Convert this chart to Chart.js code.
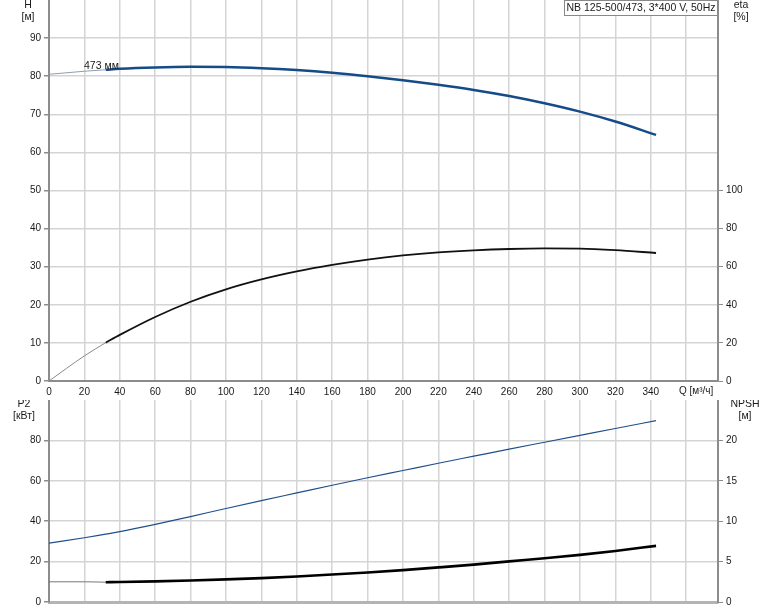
<!DOCTYPE html>
<html>
<head>
<meta charset="utf-8">
<script src="https://cdn.jsdelivr.net/npm/chart.js@4"></script>
<style>
   body { margin: 0; background: #fff; }
   canvas { position: absolute; left: 0; }
   #top { top: 0; }
   #bottom { top: 400px; }
</style>
</head>
<body>
<canvas id="top" width="774" height="400"></canvas>
<canvas id="bottom" width="774" height="211"></canvas>
<script>
// расход, м³/ч
const q = [0, 20, 32, 40, 60, 80, 100, 120, 140, 160, 180, 200, 220, 240, 260, 280, 300, 320, 343]
// напор H, м
const head = [80.5, 81.3, 81.7, 81.95, 82.3, 82.45, 82.4, 82.1, 81.6, 80.9, 80.0, 78.95, 77.75, 76.4, 74.8, 72.9, 70.7, 68.1, 64.6]
// КПД eta, %
const eta = [0, 13.2, 20.1, 24.2, 33.6, 41.6, 48.1, 53.3, 57.5, 60.9, 63.7, 65.9, 67.5, 68.6, 69.3, 69.6, 69.5, 68.7, 67.2]
// мощность P2, кВт
const power = [29.1, 31.8, 33.6, 34.8, 38.4, 42.3, 46.3, 50.2, 54.0, 57.8, 61.5, 65.1, 68.7, 72.2, 75.7, 79.1, 82.5, 85.9, 89.8]
// NPSH, м
const npsh = [2.5, 2.5, 2.45, 2.47, 2.55, 2.66, 2.8, 2.96, 3.16, 3.4, 3.66, 3.95, 4.28, 4.63, 5.03, 5.42, 5.83, 6.32, 6.95]

const qTicks = [0, 20, 40, 60, 80, 100, 120, 140, 160, 180, 200, 220, 240, 260, 280, 300, 320, 340, 360]
const headTicks = [0, 10, 20, 30, 40, 50, 60, 70, 80, 90]
const etaTicks = [0, 20, 40, 60, 80, 100]
const powerTicks = [0, 20, 40, 60, 80]
const npshTicks = [0, 5, 10, 15, 20]

const title = "NB 125-500/473, 3*400 V, 50Hz"
const curveLabel = "473 мм"
const qUnit = "Q [м³/ч]"

// конец тонкого участка в начале кривой
const split = 3

function pts(ys, from, to) {
   return q.slice(from, to).map((x, i) => ({ x: x, y: ys[from + i] }))
}

const FAMILY = "'Liberation Sans', Arial, sans-serif"
const TEXT = "#1a1a1a"
const AXIS = "#8c8c8c"
const GRID = "#d4d4d4"

function setTicks(list) {
   return scale => { scale.ticks = list.map(v => ({ value: v })) }
}

// фиксированный размер оси и без отступов под подписи
function fix(prop, size) {
   return scale => {
      scale[prop] = size
      scale.paddingTop = 0
      scale.paddingBottom = 0
      scale.paddingLeft = 0
      scale.paddingRight = 0
   }
}

function line(data, color, width, axis) {
   return {
      data: data,
      borderColor: color,
      borderWidth: width,
      pointRadius: 0,
      fill: false,
      cubicInterpolationMode: "monotone",
      yAxisID: axis
   }
}

function texts(items) {
   return {
      id: "texts",
      afterDraw(c) {
         const ctx = c.ctx
         ctx.save()
         items.forEach(t => {
            ctx.font = (t.size || 10.5) + "px " + FAMILY
            if (t.box) {
               ctx.fillStyle = "#fff"
               ctx.fillRect(t.box[0], t.box[1], t.box[2], t.box[3])
               ctx.strokeStyle = "#888"
               ctx.lineWidth = 1
               ctx.strokeRect(t.box[0] + 0.5, t.box[1] + 0.5, t.box[2] - 1, t.box[3] - 1)
            }
            ctx.fillStyle = TEXT
            ctx.textAlign = t.align || "center"
            ctx.textBaseline = "middle"
            ctx.fillText(t.text, t.x, t.y)
         })
         ctx.restore()
      }
   }
}

Chart.defaults.font = { family: FAMILY, size: 10 }
Chart.defaults.color = TEXT

new Chart(document.getElementById("top"), {
   type: "line",
   data: {
      datasets: [
         line(pts(head, 0, split), "#8d9db3", 1, "yH"),
         line(pts(head, split - 1), "#154b86", 2.5, "yH"),
         line(pts(eta, 0, split), "#8a8a8a", 1, "yEta"),
         line(pts(eta, split - 1), "#111", 1.8, "yEta")
      ]
   },
   options: {
      responsive: false,
      devicePixelRatio: 1,
      animation: false,
      plugins: { legend: { display: false }, tooltip: { enabled: false } },
      layout: { padding: 0 },
      scales: {
         x: {
            type: "linear",
            min: 0,
            max: 378,
            afterBuildTicks: setTicks(qTicks),
            afterFit: fix("height", 19),
            border: { color: AXIS, width: 2 },
            grid: { color: GRID, lineWidth: 1.5, drawTicks: false },
            ticks: {
               padding: 5,
               maxRotation: 0,
               autoSkip: false,
               callback: v => v === 360 ? "" : v
            }
         },
         yH: {
            position: "left",
            min: 0,
            max: 100,
            afterBuildTicks: setTicks(headTicks),
            afterFit: fix("width", 49),
            border: { color: AXIS, width: 2 },
            grid: { color: GRID, lineWidth: 1.5, tickLength: 5, tickColor: AXIS },
            ticks: { padding: 3, autoSkip: false }
         },
         yEta: {
            position: "right",
            min: 0,
            max: 200,
            afterBuildTicks: setTicks(etaTicks),
            afterFit: fix("width", 56),
            border: { color: AXIS, width: 2 },
            grid: { drawOnChartArea: false, tickLength: 5, tickColor: AXIS },
            ticks: { padding: 3, autoSkip: false }
         }
      }
   },
   plugins: [texts([
      { text: "H", x: 28, y: 5 },
      { text: "[м]", x: 28, y: 17 },
      { text: "eta", x: 741, y: 5 },
      { text: "[%]", x: 741, y: 17 },
      { text: title, x: 641, y: 8, box: [564, 0, 154, 16] },
      { text: curveLabel, x: 84, y: 66, align: "left" },
      { text: qUnit, x: 679, y: 391, align: "left", size: 10 }
   ])]
})

new Chart(document.getElementById("bottom"), {
   type: "line",
   data: {
      datasets: [
         line(pts(power, 0), "#1f4f8a", 1.2, "yP"),
         line(pts(npsh, 0, split), "#777", 1, "yN"),
         line(pts(npsh, split - 1), "#000", 2.6, "yN")
      ]
   },
   options: {
      responsive: false,
      devicePixelRatio: 1,
      animation: false,
      plugins: { legend: { display: false }, tooltip: { enabled: false } },
      layout: { padding: 0 },
      scales: {
         x: {
            type: "linear",
            min: 0,
            max: 378,
            afterBuildTicks: setTicks(qTicks),
            afterFit: fix("height", 9),
            border: { color: "#b4b4b4", width: 3 },
            grid: { color: GRID, lineWidth: 1.5, drawTicks: false },
            ticks: { display: false }
         },
         yP: {
            position: "left",
            min: 0,
            max: 100,
            afterBuildTicks: setTicks(powerTicks),
            afterFit: fix("width", 49),
            border: { color: AXIS, width: 2 },
            grid: { color: GRID, lineWidth: 1.5, tickLength: 5, tickColor: AXIS },
            ticks: { padding: 3, autoSkip: false }
         },
         yN: {
            position: "right",
            min: 0,
            max: 25,
            afterBuildTicks: setTicks(npshTicks),
            afterFit: fix("width", 56),
            border: { color: AXIS, width: 2 },
            grid: { drawOnChartArea: false, tickLength: 5, tickColor: AXIS },
            ticks: { padding: 3, autoSkip: false }
         }
      }
   },
   plugins: [texts([
      { text: "P2", x: 24, y: 4 },
      { text: "[кВт]", x: 24, y: 16 },
      { text: "NPSH", x: 745, y: 4 },
      { text: "[м]", x: 745, y: 16 }
   ])]
})
</script>
</body>
</html>
